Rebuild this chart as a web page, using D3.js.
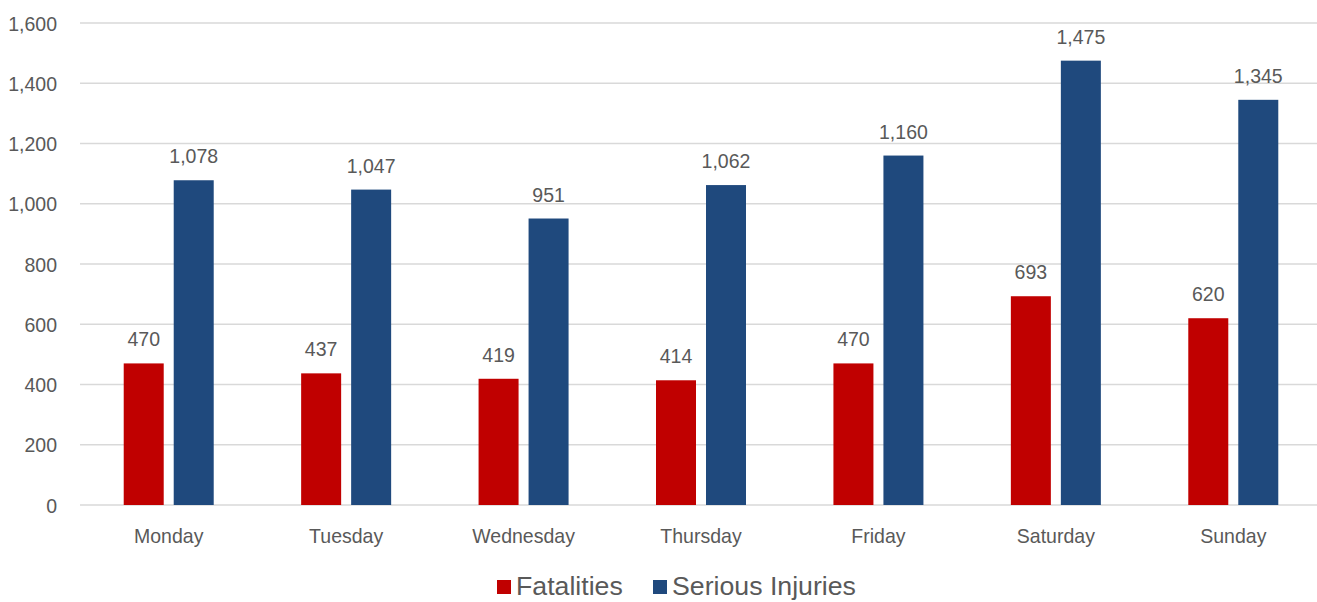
<!DOCTYPE html>
<html>
<head>
<meta charset="utf-8">
<script src="https://cdn.jsdelivr.net/npm/d3@7/dist/d3.min.js"></script>
<style>
  html, body { margin: 0; padding: 0; background: #fff; }
  text { font-family: "Liberation Sans", Arial, sans-serif; fill: #595959; }
</style>
</head>
<body>
<svg id="chart" width="1317" height="602"></svg>
<script>
const categories = ["Monday", "Tuesday", "Wednesday", "Thursday", "Friday", "Saturday", "Sunday"];
const seriesNames = ["Fatalities", "Serious Injuries"];
const fatalities = [470, 437, 419, 414, 470, 693, 620];
const seriousInjuries = [1078, 1047, 951, 1062, 1160, 1475, 1345];
const yTicks = [0, 200, 400, 600, 800, 1000, 1200, 1400, 1600];
const colors = ["#C00000", "#1F497D"];

const seriesValues = [fatalities, seriousInjuries];
const svg = d3.select("#chart");
const fmt = d3.format(",");
const sx = 0.93;

const x0 = d3.scaleBand().domain(categories).range([80, 1322]).padding(0);
const bw = x0.bandwidth();
const x1 = d3.scaleBand().domain(seriesNames).range([bw / 2 - 45, bw / 2 + 45]).paddingInner(0.2).paddingOuter(0);
const y = d3.scaleLinear().domain([0, 1600]).range([505, 23]);

// gridlines
svg.append("g").selectAll("line").data(yTicks).join("line")
  .attr("x1", 80).attr("x2", 1317)
  .attr("y1", d => y(d)).attr("y2", d => y(d))
  .attr("stroke", "#D9D9D9").attr("stroke-width", 1.3);

// y tick labels
svg.append("g").selectAll("text").data(yTicks).join("text")
  .attr("transform", d => `translate(57,${y(d) + 7.5}) scale(${sx},1)`)
  .attr("text-anchor", "end")
  .attr("font-size", 21)
  .text(d => fmt(d));

// bars
const groups = svg.append("g").selectAll("g").data(categories).join("g")
  .attr("transform", d => `translate(${x0(d)},0)`);

groups.selectAll("rect").data((d, i) => seriesNames.map((s, j) => ({ s, j, v: seriesValues[j][i] })))
  .join("rect")
  .attr("x", d => x1(d.s))
  .attr("width", x1.bandwidth())
  .attr("y", d => y(d.v))
  .attr("height", d => y(0) - y(d.v))
  .attr("fill", d => colors[d.j]);

groups.selectAll("text.lbl").data((d, i) => seriesNames.map((s, j) => ({ s, j, v: seriesValues[j][i] })))
  .join("text")
  .attr("class", "lbl")
  .attr("transform", d => `translate(${x1(d.s) + x1.bandwidth() / 2},${y(d.v) - 17}) scale(${sx},1)`)
  .attr("text-anchor", "middle")
  .attr("font-size", 21)
  .text(d => fmt(d.v));

// category labels
svg.append("g").selectAll("text").data(categories).join("text")
  .attr("transform", d => `translate(${x0(d) + bw / 2},${543}) scale(${sx},1)`)
  .attr("text-anchor", "middle")
  .attr("font-size", 21)
  .text(d => d);

// legend
const legendItems = [{ name: seriesNames[0], x: 497, color: colors[0] }, { name: seriesNames[1], x: 653, color: colors[1] }];
const lg = svg.append("g").selectAll("g").data(legendItems).join("g")
  .attr("transform", d => `translate(${d.x},0)`);
lg.append("rect").attr("x", 0).attr("y", 580).attr("width", 14).attr("height", 14).attr("fill", d => d.color);
lg.append("text").attr("x", 19).attr("y", 595).attr("font-size", 26.7).text(d => d.name);
</script>
</body>
</html>
